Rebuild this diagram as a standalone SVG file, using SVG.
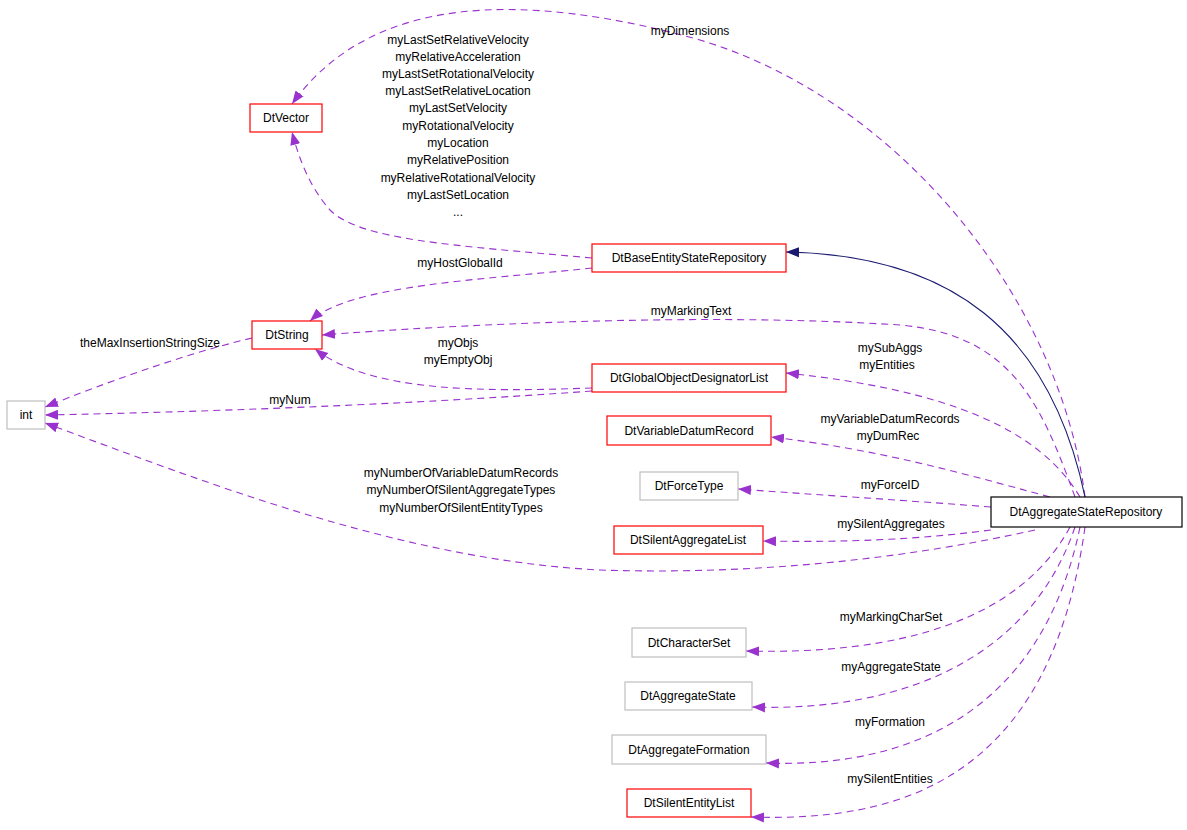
<svg xmlns="http://www.w3.org/2000/svg" width="1187" height="830" viewBox="0 0 1187 830">
<style>
text{font-family:"Liberation Sans",Arial,sans-serif;font-size:12px;fill:#000;text-anchor:middle}
.n rect{fill:#fff;stroke-width:1.2}
.r rect{stroke:#ff0000}
.g rect{stroke:#bfbfbf}
.e{fill:none;stroke:#9a32cd;stroke-dasharray:7,5;stroke-width:1.1;marker-end:url(#a)}
.i{fill:none;stroke:#191970;stroke-width:1.1;marker-end:url(#b)}
</style>
<defs>
<marker id="a" markerUnits="userSpaceOnUse" markerWidth="14" markerHeight="12" refX="13" refY="5" orient="auto" viewBox="0 0 14 10"><path d="M0,0L13,5L0,10z" fill="#9a32cd"/></marker>
<marker id="b" markerUnits="userSpaceOnUse" markerWidth="14" markerHeight="12" refX="13" refY="5" orient="auto" viewBox="0 0 14 10"><path d="M0,0L13,5L0,10z" fill="#191970"/></marker>
</defs>
<rect width="1187" height="830" fill="#fff"/>
<g id="edges">
<path class="e" d="M1085,497 C1060,300 900,100 700,40 C520,-10 370,-5 292,104"/>
<path class="e" d="M592,258 C450,245 360,240 330,210 C308,185 298,155 292,132"/>
<path class="e" d="M592,268 C480,280 350,285 310,321"/>
<path class="e" d="M1075,497 C1040,400 1010,335 900,325 C700,312 450,325 322,335"/>
<path class="e" d="M592,388 C480,392 370,392 315,349"/>
<path class="e" d="M592,391 C400,405 200,412 45,415"/>
<path class="e" d="M252,338 C180,355 100,385 45,407"/>
<path class="e" d="M1035,530 C900,560 750,575 600,570 C400,560 200,480 45,423"/>
<path class="e" d="M1080,497 C1040,430 950,390 786,373"/>
<path class="e" d="M1050,497 C950,470 880,450 771,437"/>
<path class="e" d="M991,507 C900,500 820,495 738,489"/>
<path class="e" d="M991,530 C900,542 820,542 763,541"/>
<path class="e" d="M1070,527 C1020,620 900,655 746,651"/>
<path class="e" d="M1075,527 C1030,660 900,712 752,707"/>
<path class="e" d="M1080,527 C1040,720 900,768 766,763"/>
<path class="e" d="M1085,527 C1050,780 900,822 751,817"/>
<path class="i" d="M1085,497 C1050,330 950,255 786,252"/>
<text x="690" y="35">myDimensions</text>
<text x="458" y="44">myLastSetRelativeVelocity</text>
<text x="458" y="61">myRelativeAcceleration</text>
<text x="458" y="78">myLastSetRotationalVelocity</text>
<text x="458" y="95">myLastSetRelativeLocation</text>
<text x="458" y="112">myLastSetVelocity</text>
<text x="458" y="130">myRotationalVelocity</text>
<text x="458" y="147">myLocation</text>
<text x="458" y="164">myRelativePosition</text>
<text x="458" y="182">myRelativeRotationalVelocity</text>
<text x="458" y="199">myLastSetLocation</text>
<text x="458" y="216">...</text>
<text x="460" y="267">myHostGlobalId</text>
<text x="691" y="315">myMarkingText</text>
<text x="150" y="347">theMaxInsertionStringSize</text>
<text x="458" y="347">myObjs</text>
<text x="458" y="364">myEmptyObj</text>
<text x="290" y="404">myNum</text>
<text x="890" y="352">mySubAggs</text>
<text x="887" y="369">myEntities</text>
<text x="890" y="423">myVariableDatumRecords</text>
<text x="888" y="440">myDumRec</text>
<text x="890" y="489">myForceID</text>
<text x="891" y="528">mySilentAggregates</text>
<text x="461" y="477">myNumberOfVariableDatumRecords</text>
<text x="461" y="494">myNumberOfSilentAggregateTypes</text>
<text x="461" y="512">myNumberOfSilentEntityTypes</text>
<text x="891" y="621">myMarkingCharSet</text>
<text x="891" y="671">myAggregateState</text>
<text x="890" y="726">myFormation</text>
<text x="890" y="783">mySilentEntities</text>
</g>
<g id="DtVector" class="n r"><rect x="250" y="104" width="72" height="28"/><text x="286" y="122">DtVector</text></g>
<g id="DtBaseEntityStateRepository" class="n r"><rect x="592" y="244" width="194" height="28"/><text x="689" y="262">DtBaseEntityStateRepository</text></g>
<g id="DtString" class="n r"><rect x="252" y="321" width="70" height="28"/><text x="287" y="339">DtString</text></g>
<g id="int" class="n g"><rect x="7" y="401" width="38" height="28"/><text x="26" y="419">int</text></g>
<g id="DtGlobalObjectDesignatorList" class="n r"><rect x="592" y="364" width="194" height="28"/><text x="689" y="382">DtGlobalObjectDesignatorList</text></g>
<g id="DtVariableDatumRecord" class="n r"><rect x="607" y="416" width="164" height="29"/><text x="689" y="435">DtVariableDatumRecord</text></g>
<g id="DtForceType" class="n g"><rect x="640" y="472" width="98" height="28"/><text x="689" y="490">DtForceType</text></g>
<g id="DtSilentAggregateList" class="n r"><rect x="614" y="526" width="149" height="28"/><text x="688" y="544">DtSilentAggregateList</text></g>
<g id="DtAggregateStateRepository" class="n"><rect x="991" y="497" width="191" height="30" fill="#bfbfbf" stroke="#000" stroke-width="1.2"/><text x="1086" y="516">DtAggregateStateRepository</text></g>
<g id="DtCharacterSet" class="n g"><rect x="632" y="628" width="114" height="29"/><text x="689" y="647">DtCharacterSet</text></g>
<g id="DtAggregateState" class="n g"><rect x="625" y="682" width="127" height="28"/><text x="688" y="700">DtAggregateState</text></g>
<g id="DtAggregateFormation" class="n g"><rect x="612" y="735" width="154" height="29"/><text x="689" y="754">DtAggregateFormation</text></g>
<g id="DtSilentEntityList" class="n r"><rect x="627" y="789" width="124" height="28"/><text x="689" y="807">DtSilentEntityList</text></g>
</svg>
